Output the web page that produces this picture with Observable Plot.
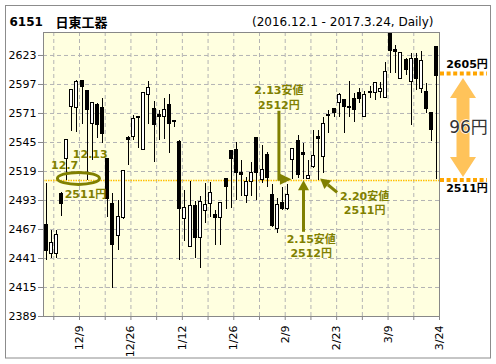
<!DOCTYPE html>
<html>
<head>
<meta charset="utf-8">
<script src="https://cdn.jsdelivr.net/npm/d3@7"></script>
<script src="https://cdn.jsdelivr.net/npm/@observablehq/plot@0.6"></script>
<style>
  html, body { margin: 0; padding: 0; background: #fff; }
  #chart svg { display: block; }
</style>
</head>
<body>
<div id="chart"></div>
<script>
// ---- data ----
const dates = ["12/1","12/2","12/5","12/6","12/7","12/8","12/9","12/12","12/13","12/14","12/15","12/16","12/19","12/20","12/21","12/22","12/26","12/27","12/28","12/29","12/30",
  "1/4","1/5","1/6","1/10","1/11","1/12","1/13","1/16","1/17","1/18","1/19","1/20","1/23","1/24","1/25","1/26","1/27","1/30","1/31",
  "2/1","2/2","2/3","2/6","2/7","2/8","2/9","2/10","2/13","2/14","2/15","2/16","2/17","2/20","2/21","2/22","2/23","2/24","2/27","2/28",
  "3/1","3/2","3/3","3/6","3/7","3/8","3/9","3/10","3/13","3/14","3/15","3/16","3/17","3/21","3/22","3/23","3/24"];
const opens = [2471,2445,2445,2499,2530,2577,2576,2600,2591,2562,2579,2576,2530,2490,2461,2477,2549,2550,2568,2538,2588,
  2575,2570,2568,2579,2564,2545,2476,2451,2488,2459,2484,2490,2480,2477,2512,2537,2538,2518,2497,
  2510,2549,2511,2534,2498,2467,2491,2485,2529,2546,2536,2512,2523,2550,2532,2570,2575,2580,2583,2577,
  2584,2589,2568,2590,2589,2590,2585,2642,2628,2602,2619,2599,2620,2593,2590,2571,2631];
const highs = [2508,2466,2466,2500,2548,2592,2601,2600,2591,2580,2580,2584,2530,2499,2493,2520,2550,2569,2568,2589,2600,
  2582,2574,2584,2588,2565,2547,2502,2510,2492,2497,2508,2509,2484,2491,2513,2537,2545,2529,2514,
  2527,2549,2542,2536,2507,2495,2505,2507,2540,2551,2544,2529,2556,2556,2567,2574,2575,2589,2583,2600,
  2589,2593,2591,2595,2599,2599,2617,2643,2632,2625,2620,2625,2625,2627,2598,2571,2631];
const lows = [2439,2441,2441,2479,2511,2555,2554,2561,2511,2529,2549,2544,2478,2414,2448,2476,2524,2547,2540,2538,2561,
  2527,2547,2548,2535,2558,2439,2456,2451,2441,2432,2472,2478,2453,2453,2485,2486,2493,2497,2490,
  2497,2493,2508,2505,2469,2463,2484,2484,2512,2513,2512,2512,2522,2511,2517,2553,2567,2567,2553,2567,
  2563,2580,2567,2584,2583,2584,2585,2607,2607,2602,2605,2560,2592,2589,2571,2546,2512];
const closes = [2448,2455,2462,2490,2547,2592,2599,2595,2574,2580,2561,2553,2494,2453,2478,2519,2547,2566,2567,2589,2594,
  2561,2568,2574,2562,2563,2485,2486,2488,2459,2492,2489,2500,2477,2491,2505,2530,2518,2516,2510,
  2518,2518,2520,2513,2470,2489,2485,2498,2539,2516,2534,2515,2533,2548,2562,2569,2571,2588,2577,2576,
  2574,2584,2588,2589,2598,2593,2608,2627,2626,2625,2610,2620,2602,2618,2575,2556,2605];

const yTicks = [2389, 2415, 2441, 2467, 2493, 2519, 2545, 2571, 2597, 2623];
const yTop = 2643.6;
const labeledDates = ["12/9","12/26","1/12","1/26","2/9","2/23","3/9","3/24"];

const code = "6151";
const company = "日東工器";
const period = "(2016.12.1 - 2017.3.24, Daily)";

// annotation values
const supportLow = 2511;
const lastClose = 2605;
const diffLabel = "96円";
const decLows = [{date: "12/7", label: "12.7"}, {date: "12/13", label: "12.13"}];
const decLowValue = 2511;
const febLows = [
  {date: "2/13", label: "2.13安値", value: 2512},
  {date: "2/15", label: "2.15安値", value: 2512},
  {date: "2/20", label: "2.20安値", value: 2511}
];

// ---- build ----
const data = dates.map((date, i) => ({i, date, open: opens[i], high: highs[i], low: lows[i], close: closes[i]}));
const idx = d => dates.indexOf(d);
const xTicks = d3.range(1.5, dates.length, 5);
const labeledIdx = new Set(labeledDates.map(idx));
const olive = "#808000";
const orange = "#ffa500";
const boldText = {fill: olive, fontWeight: "bold", fontSize: 11};

function overlay(index, scales, values, dims) {
  const {x, y} = scales;
  const g = d3.create("svg:g");
  const right = dims.width - dims.marginRight;

  // outer border
  g.append("rect").attr("x", 5.5).attr("y", 5.5)
    .attr("width", dims.width - 11).attr("height", dims.height - 11.5)
    .attr("fill", "none").attr("stroke", "#8c8c8c");

  // ellipse round the December lows
  const xa = x(idx(decLows[0].date)), xb = x(idx(decLows[1].date));
  g.append("ellipse").attr("cx", (xa + xb) / 2 + 2).attr("cy", y(decLowValue) - 1.5)
    .attr("rx", 21).attr("ry", 6).attr("fill", "none")
    .attr("stroke", olive).attr("stroke-width", 3);

  // 2.13 arrow: down then right
  {
    const f = febLows[0];
    const xs = x(idx(f.date)) - 13.5, yb = y(f.value) + 0.5;
    g.append("path").attr("d", `M${xs},${y(f.value) - 68}V${yb}H${xs + 3}`)
      .attr("fill", "none").attr("stroke", olive).attr("stroke-width", 3);
    g.append("path").attr("d", `M${xs + 1},${yb - 5.5}L${xs + 12.5},${yb}L${xs + 1},${yb + 5.5}Z`)
      .attr("fill", olive);
  }
  // 2.15 arrow: up
  {
    const f = febLows[1];
    const xs = x(idx(f.date)) + 0.8, tip = y(f.value) + 1.5;
    g.append("path").attr("d", `M${xs},${y(f.value) + 53}V${tip + 9}`)
      .attr("stroke", olive).attr("stroke-width", 3);
    g.append("path").attr("d", `M${xs - 5.5},${tip + 10}L${xs},${tip}L${xs + 5.5},${tip + 10}Z`)
      .attr("fill", olive);
  }
  // 2.20 arrow: diagonal up-left
  {
    const f = febLows[2];
    const tx = x(idx(f.date)) + 2, ty = y(f.value) - 1.5;
    const sx = tx + 17, sy = ty + 14;
    const dx = tx - sx, dy = ty - sy, len = Math.hypot(dx, dy), ux = dx / len, uy = dy / len;
    const bx = tx - ux * 10, by = ty - uy * 10;
    g.append("path").attr("d", `M${sx},${sy}L${bx},${by}`)
      .attr("stroke", olive).attr("stroke-width", 3);
    g.append("path").attr("d", `M${bx - uy * 5.5},${by + ux * 5.5}L${tx},${ty}L${bx + uy * 5.5},${by - ux * 5.5}Z`)
      .attr("fill", olive);
  }

  // right panel: dotted levels
  for (const v of [lastClose, supportLow]) {
    const yy = y(v) - (v === lastClose ? 1.5 : 0);
    g.append("line").attr("x1", right + 1).attr("x2", right + 48)
      .attr("y1", yy).attr("y2", yy)
      .attr("stroke", orange).attr("stroke-width", 4).attr("stroke-dasharray", "4,2.6");
  }
  // double-headed arrow
  const cx = right + 24, top = y(lastClose) + 3, bot = y(supportLow) - 3;
  const hw = 13, sw = 6.5, hh = 20;
  g.append("path").attr("d",
    `M${cx},${top}L${cx + hw},${top + hh}L${cx + sw},${top + hh}L${cx + sw},${bot - hh}L${cx + hw},${bot - hh}` +
    `L${cx},${bot}L${cx - hw},${bot - hh}L${cx - sw},${bot - hh}L${cx - sw},${top + hh}L${cx - hw},${top + hh}Z`)
    .attr("fill", "#ffc35a");
  return g.node();
}

const chart = Plot.plot({
  width: 496,
  height: 364,
  marginLeft: 43,
  marginRight: 57,
  marginTop: 32,
  marginBottom: 48,
  style: {fontFamily: "'DejaVu Sans', 'Noto Sans CJK JP', sans-serif", fontSize: "11px", background: "#fff", overflow: "visible"},
  x: {type: "linear", domain: [-0.5, dates.length - 0.5], axis: null, label: null},
  y: {domain: [yTicks[0], yTop], axis: null, label: null},
  marks: [
    Plot.frame({fill: "#ffffe0"}),
    Plot.gridY(yTicks.slice(1), {stroke: "#b4b4b4", strokeOpacity: 1, strokeDasharray: "4,3"}),
    Plot.gridX(xTicks.slice(0, -1), {stroke: "#b4b4b4", strokeOpacity: 1, strokeDasharray: "4,3"}),
    Plot.ruleY([supportLow], {stroke: "#ffc000", strokeDasharray: "1.5,1", strokeWidth: 1.5}),
    Plot.ruleX(data, {x: "i", y1: "low", y2: "high", stroke: "#000", shapeRendering: "crispEdges"}),
    Plot.rect(data, {
      x1: d => d.i - 0.3, x2: d => d.i + 0.3, y1: "open", y2: "close",
      fill: d => d.close >= d.open ? "#fff" : "#000", stroke: "#000", shapeRendering: "crispEdges"
    }),
    Plot.frame({stroke: "#888"}),
    Plot.axisY(yTicks, {tickSize: 5, tickPadding: 2, stroke: "#888", fill: "#000", fontSize: 11, label: null, tickFormat: d => String(d)}),
    Plot.axisX(xTicks, {
      tickSize: 4, tickPadding: 5, tickRotate: -90, stroke: "#888", fill: "#000", fontSize: 11, label: null,
      tickFormat: t => labeledIdx.has(Math.floor(t)) ? dates[Math.floor(t)] : ""
    }),
    // titles
    Plot.text([code], {frameAnchor: "top-left", dx: -34, dy: -15, textAnchor: "start", fontWeight: "bold", fontSize: 12, fill: "#000"}),
    Plot.text([company], {frameAnchor: "top-left", dx: 12, dy: -15, textAnchor: "start", fontWeight: "bold", fontSize: 13, fill: "#000"}),
    Plot.text([period], {frameAnchor: "top-right", dx: -6, dy: -15, textAnchor: "end", fontSize: 12, fill: "#000"}),
    // December lows
    Plot.text([decLows[0]], {x: d => idx(d.date), y: () => decLowValue, text: "label", dx: -2, dy: -15, ...boldText}),
    Plot.text([decLows[1]], {x: d => idx(d.date), y: () => decLowValue, text: "label", dx: 3, dy: -26, ...boldText}),
    Plot.text([decLowValue], {x: () => (idx(decLows[0].date) + idx(decLows[1].date)) / 2, y: d => d, text: d => `${d}円`, dx: 8.6, dy: 14, ...boldText}),
    // February lows
    Plot.text([febLows[0]], {x: d => idx(d.date), y: "value", text: "label", dx: -14, dy: -89, ...boldText}),
    Plot.text([febLows[0]], {x: d => idx(d.date), y: "value", text: d => `${d.value}円`, dx: -14, dy: -74, ...boldText}),
    Plot.text([febLows[1]], {x: d => idx(d.date), y: "value", text: "label", dx: 8, dy: 60.5, ...boldText}),
    Plot.text([febLows[1]], {x: d => idx(d.date), y: "value", text: d => `${d.value}円`, dx: 8, dy: 74, ...boldText}),
    Plot.text([febLows[2]], {x: d => idx(d.date), y: "value", text: "label", dx: 46, dy: 16.5, ...boldText}),
    Plot.text([febLows[2]], {x: d => idx(d.date), y: "value", text: d => `${d.value}円`, dx: 46, dy: 30.5, ...boldText}),
    overlay,
    // right panel labels
    Plot.text([lastClose], {frameAnchor: "right", y: d => d, text: d => `${d}円`, textAnchor: "middle", dx: 27.5, dy: -11, fontWeight: "bold", fontSize: 11, fill: "#000"}),
    Plot.text([supportLow], {frameAnchor: "right", y: d => d, text: d => `${d}円`, textAnchor: "middle", dx: 27.5, dy: 8.5, fontWeight: "bold", fontSize: 11, fill: "#000"}),
    Plot.text([diffLabel], {frameAnchor: "right", y: () => (lastClose + supportLow) / 2, text: d => d, textAnchor: "middle", dx: 29, dy: 0, fontSize: 17, fill: "#333", stroke: "#fff", strokeWidth: 1.5, paintOrder: "stroke"})
  ]
});
document.getElementById("chart").append(chart);
</script>
</body>
</html>
